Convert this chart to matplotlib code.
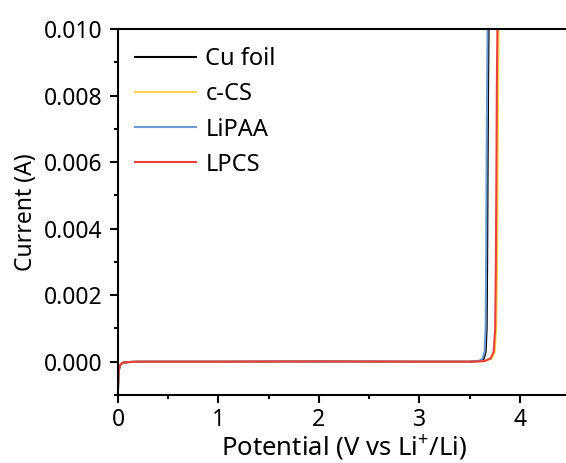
import matplotlib
matplotlib.use("Agg")
import matplotlib.pyplot as plt
from matplotlib.ticker import MultipleLocator

plt.rcParams["font.family"] = ["Noto Sans", "DejaVu Sans"]
plt.rcParams["mathtext.default"] = "regular"

labels = ["Cu foil", "c-CS", "LiPAA", "LPCS"]
colors = ["#000000", "#FFD34E", "#6A9AD0", "#E8403C"]

cu_v = [0, 0.005, 0.02, 0.05, 0.1, 0.2, 1.0, 2.0, 3.0, 3.5, 3.6, 3.64, 3.66, 3.67, 3.675, 3.68, 3.685, 3.69]
cu_i = [-0.0008, -0.0003, -0.0001, -0.00003, -0.00001, 0, 0, 0.00001, 0, 0, 0.00002, 0.00008,
        0.0003, 0.001, 0.003, 0.006, 0.0085, 0.0102]

ccs_v = [0, 0.005, 0.02, 0.05, 0.1, 0.2, 1.0, 2.0, 3.0, 3.5, 3.65, 3.72, 3.75, 3.765, 3.775, 3.78, 3.785, 3.79]
ccs_i = [-0.0007, -0.0003, -0.0001, -0.00003, -0.00001, 0, 0, 0.00001, 0, 0, 0.00002, 0.0001,
         0.0003, 0.001, 0.003, 0.006, 0.0085, 0.0102]

lipaa_v = [0, 0.005, 0.02, 0.05, 0.1, 0.2, 1.0, 2.0, 3.0, 3.5, 3.6, 3.63, 3.65, 3.66, 3.665, 3.67, 3.675, 3.68]
lipaa_i = [-0.0008, -0.0003, -0.0001, -0.00003, -0.00001, 0, 0, 0.00001, 0, 0, 0.00003, 0.0001,
           0.0003, 0.001, 0.003, 0.006, 0.0085, 0.0102]

lpcs_v = [0, 0.005, 0.02, 0.05, 0.1, 0.2, 1.0, 2.0, 3.0, 3.5, 3.65, 3.71, 3.74, 3.755, 3.762, 3.768, 3.772, 3.778]
lpcs_i = [-0.0008, -0.0003, -0.0001, -0.00003, -0.00001, 0, 0, 0.00001, 0, 0, 0.00002, 0.0001,
          0.0003, 0.001, 0.003, 0.006, 0.0085, 0.0102]

fig = plt.figure(figsize=(5.66, 4.63), dpi=100)
ax = fig.add_axes([118 / 566, 1 - 395 / 463, 452 / 566, 366 / 463])

for v, i, lab, c in zip([cu_v, ccs_v, lipaa_v, lpcs_v], [cu_i, ccs_i, lipaa_i, lpcs_i], labels, colors):
    ax.plot(v, i, color=c, lw=1.5, label=lab)

ax.set_xlim(0, 4.5)
ax.set_ylim(-0.001, 0.010)
ax.xaxis.set_major_locator(MultipleLocator(1))
ax.xaxis.set_minor_locator(MultipleLocator(0.5))
ax.yaxis.set_major_locator(MultipleLocator(0.002))
ax.yaxis.set_minor_locator(MultipleLocator(0.001))
ax.yaxis.set_major_formatter(plt.FormatStrFormatter("%.3f"))
ax.tick_params(which="both", direction="out", width=1.5, labelsize=16.5)
ax.tick_params(which="major", length=6)
ax.tick_params(which="minor", length=3)
ax.tick_params(axis="y", which="major", pad=5)
for s in ax.spines.values():
    s.set_linewidth(1.5)

ax.set_xlabel("Potential (V vs Li$^{+}$/Li)", fontsize=18.5, labelpad=1)
ax.set_ylabel("Current (A)", fontsize=16.5, labelpad=4)

ax.legend(loc="upper left", frameon=False, fontsize=17, handlelength=2.6,
          handletextpad=0.4, labelspacing=0.47, borderaxespad=0.3,
          bbox_to_anchor=(0.0, 0.995))

fig.savefig("out.png", dpi=100)
